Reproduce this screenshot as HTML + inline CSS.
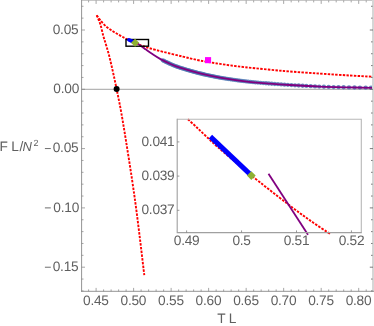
<!DOCTYPE html><html><head><meta charset="utf-8"><style>html,body{margin:0;padding:0;background:#fff}svg{display:block;will-change:transform}</style></head><body><svg width="374" height="326" viewBox="0 0 374 326">
<rect width="374" height="326" fill="#fff"/>
<line x1="81.60" y1="89.30" x2="372.50" y2="89.30" stroke="#8a8a8a" stroke-width="0.8"/>
<path d="M96.70 15.30 C97.35 16.18 98.98 18.70 100.60 20.60 C102.22 22.50 104.42 24.97 106.40 26.70 C108.38 28.43 110.45 29.67 112.50 31.00 C114.55 32.33 116.65 33.52 118.70 34.70 C120.75 35.88 122.92 37.10 124.80 38.10 C126.68 39.10 128.27 39.88 130.00 40.70 C131.73 41.52 133.97 42.45 135.20 43.00 C136.43 43.55 136.67 43.67 137.40 44.00 C138.13 44.33 138.73 44.62 139.60 44.95 C140.47 45.28 141.60 45.66 142.60 46.00 C143.60 46.34 144.28 46.58 145.60 47.00 C146.92 47.42 147.53 47.68 150.50 48.50 C153.47 49.32 158.02 50.55 163.40 51.90 C168.78 53.25 177.22 55.27 182.80 56.60 C188.38 57.93 192.73 59.02 196.90 59.90 C201.07 60.78 203.95 61.23 207.80 61.90 C211.65 62.57 213.80 63.02 220.00 63.90 C226.20 64.78 234.33 66.02 245.00 67.20 C255.67 68.38 271.50 69.93 284.00 71.00 C296.50 72.07 309.00 72.85 320.00 73.60 C331.00 74.35 341.33 74.98 350.00 75.50 C358.67 76.02 368.33 76.50 372.00 76.70" fill="none" stroke="#ff0000" stroke-width="1.9" stroke-dasharray="2.45 1.3"/>
<path d="M96.70 15.30 C97.30 16.78 99.18 20.72 100.30 24.20 C101.42 27.68 102.38 32.57 103.40 36.20 C104.42 39.83 105.27 42.03 106.40 46.00 C107.53 49.97 108.50 52.83 110.20 60.00 C111.90 67.17 114.40 78.17 116.60 89.00 C118.80 99.83 120.33 106.50 123.40 125.00 C126.47 143.50 131.52 174.97 135.00 200.00 C138.48 225.03 142.75 262.67 144.30 275.20" fill="none" stroke="#ff0000" stroke-width="1.9" stroke-dasharray="2.45 1.3"/>
<circle cx="162.80" cy="60.35" r="2.15" fill="#4f78b3" fill-opacity="0.85"/>
<circle cx="164.00" cy="60.96" r="2.15" fill="#4f78b3" fill-opacity="0.85"/>
<circle cx="165.20" cy="61.56" r="2.15" fill="#4f78b3" fill-opacity="0.85"/>
<circle cx="166.40" cy="62.14" r="2.15" fill="#4f78b3" fill-opacity="0.85"/>
<circle cx="167.60" cy="62.71" r="2.15" fill="#4f78b3" fill-opacity="0.85"/>
<circle cx="168.80" cy="63.26" r="2.15" fill="#4f78b3" fill-opacity="0.85"/>
<circle cx="170.00" cy="63.80" r="2.15" fill="#4f78b3" fill-opacity="0.85"/>
<circle cx="171.20" cy="64.34" r="2.15" fill="#4f78b3" fill-opacity="0.85"/>
<circle cx="172.40" cy="64.87" r="2.15" fill="#4f78b3" fill-opacity="0.85"/>
<circle cx="173.60" cy="65.38" r="2.15" fill="#4f78b3" fill-opacity="0.85"/>
<circle cx="174.80" cy="65.87" r="2.15" fill="#4f78b3" fill-opacity="0.85"/>
<circle cx="176.00" cy="66.33" r="2.15" fill="#4f78b3" fill-opacity="0.85"/>
<circle cx="177.20" cy="66.77" r="2.15" fill="#4f78b3" fill-opacity="0.85"/>
<circle cx="178.40" cy="67.18" r="2.15" fill="#4f78b3" fill-opacity="0.85"/>
<circle cx="179.60" cy="67.57" r="2.15" fill="#4f78b3" fill-opacity="0.85"/>
<circle cx="180.80" cy="67.96" r="2.15" fill="#4f78b3" fill-opacity="0.85"/>
<circle cx="182.00" cy="68.33" r="2.15" fill="#4f78b3" fill-opacity="0.85"/>
<circle cx="183.20" cy="68.70" r="2.15" fill="#4f78b3" fill-opacity="0.85"/>
<circle cx="184.40" cy="69.07" r="2.15" fill="#4f78b3" fill-opacity="0.85"/>
<circle cx="185.60" cy="69.43" r="2.15" fill="#4f78b3" fill-opacity="0.85"/>
<circle cx="186.80" cy="69.78" r="2.15" fill="#4f78b3" fill-opacity="0.85"/>
<circle cx="188.00" cy="70.13" r="2.15" fill="#4f78b3" fill-opacity="0.85"/>
<circle cx="189.20" cy="70.48" r="2.15" fill="#4f78b3" fill-opacity="0.85"/>
<circle cx="190.40" cy="70.83" r="2.15" fill="#4f78b3" fill-opacity="0.85"/>
<circle cx="191.60" cy="71.17" r="2.15" fill="#4f78b3" fill-opacity="0.85"/>
<circle cx="192.80" cy="71.50" r="2.15" fill="#4f78b3" fill-opacity="0.85"/>
<circle cx="194.00" cy="71.83" r="2.15" fill="#4f78b3" fill-opacity="0.85"/>
<circle cx="195.20" cy="72.16" r="2.15" fill="#4f78b3" fill-opacity="0.85"/>
<circle cx="196.40" cy="72.48" r="2.15" fill="#4f78b3" fill-opacity="0.85"/>
<circle cx="197.60" cy="72.79" r="2.15" fill="#4f78b3" fill-opacity="0.85"/>
<circle cx="198.80" cy="73.10" r="2.15" fill="#4f78b3" fill-opacity="0.85"/>
<circle cx="200.00" cy="73.40" r="2.15" fill="#4f78b3" fill-opacity="0.85"/>
<circle cx="201.20" cy="73.70" r="2.15" fill="#4f78b3" fill-opacity="0.85"/>
<circle cx="202.40" cy="73.99" r="2.15" fill="#4f78b3" fill-opacity="0.85"/>
<circle cx="203.60" cy="74.27" r="2.15" fill="#4f78b3" fill-opacity="0.85"/>
<circle cx="204.80" cy="74.55" r="2.15" fill="#4f78b3" fill-opacity="0.85"/>
<circle cx="206.00" cy="74.82" r="2.15" fill="#4f78b3" fill-opacity="0.85"/>
<circle cx="207.20" cy="75.09" r="2.15" fill="#4f78b3" fill-opacity="0.85"/>
<circle cx="208.40" cy="75.35" r="2.15" fill="#4f78b3" fill-opacity="0.85"/>
<circle cx="209.60" cy="75.61" r="2.15" fill="#4f78b3" fill-opacity="0.85"/>
<circle cx="210.80" cy="75.86" r="2.15" fill="#4f78b3" fill-opacity="0.85"/>
<circle cx="212.00" cy="76.10" r="2.15" fill="#4f78b3" fill-opacity="0.85"/>
<circle cx="213.20" cy="76.34" r="2.15" fill="#4f78b3" fill-opacity="0.85"/>
<circle cx="214.42" cy="76.58" r="2.15" fill="#4f78b3" fill-opacity="0.85"/>
<circle cx="215.67" cy="76.81" r="2.15" fill="#4f78b3" fill-opacity="0.85"/>
<circle cx="216.96" cy="77.05" r="2.15" fill="#4f78b3" fill-opacity="0.85"/>
<circle cx="218.28" cy="77.30" r="2.15" fill="#4f78b3" fill-opacity="0.85"/>
<circle cx="219.65" cy="77.54" r="2.15" fill="#4f78b3" fill-opacity="0.85"/>
<circle cx="221.07" cy="77.79" r="2.15" fill="#4f78b3" fill-opacity="0.85"/>
<circle cx="222.52" cy="78.03" r="2.15" fill="#4f78b3" fill-opacity="0.85"/>
<circle cx="224.02" cy="78.29" r="2.15" fill="#4f78b3" fill-opacity="0.85"/>
<circle cx="225.57" cy="78.54" r="2.15" fill="#4f78b3" fill-opacity="0.85"/>
<circle cx="227.16" cy="78.80" r="2.15" fill="#4f78b3" fill-opacity="0.85"/>
<circle cx="228.81" cy="79.05" r="2.15" fill="#4f78b3" fill-opacity="0.85"/>
<circle cx="230.50" cy="79.32" r="2.15" fill="#4f78b3" fill-opacity="0.85"/>
<circle cx="232.25" cy="79.58" r="2.15" fill="#4f78b3" fill-opacity="0.85"/>
<circle cx="234.05" cy="79.84" r="2.15" fill="#4f78b3" fill-opacity="0.85"/>
<circle cx="235.91" cy="80.11" r="2.15" fill="#4f78b3" fill-opacity="0.85"/>
<circle cx="237.83" cy="80.38" r="2.15" fill="#4f78b3" fill-opacity="0.85"/>
<circle cx="239.80" cy="80.64" r="2.15" fill="#4f78b3" fill-opacity="0.85"/>
<circle cx="241.83" cy="80.91" r="2.15" fill="#4f78b3" fill-opacity="0.85"/>
<circle cx="243.93" cy="81.17" r="2.15" fill="#4f78b3" fill-opacity="0.85"/>
<circle cx="246.09" cy="81.43" r="2.15" fill="#4f78b3" fill-opacity="0.85"/>
<circle cx="248.32" cy="81.68" r="2.15" fill="#4f78b3" fill-opacity="0.85"/>
<circle cx="250.62" cy="81.92" r="2.15" fill="#4f78b3" fill-opacity="0.85"/>
<circle cx="252.99" cy="82.15" r="2.15" fill="#4f78b3" fill-opacity="0.85"/>
<circle cx="255.44" cy="82.38" r="2.15" fill="#4f78b3" fill-opacity="0.85"/>
<circle cx="257.95" cy="82.61" r="2.15" fill="#4f78b3" fill-opacity="0.85"/>
<circle cx="260.55" cy="82.83" r="2.15" fill="#4f78b3" fill-opacity="0.85"/>
<circle cx="263.23" cy="83.05" r="2.15" fill="#4f78b3" fill-opacity="0.85"/>
<circle cx="265.99" cy="83.27" r="2.15" fill="#4f78b3" fill-opacity="0.85"/>
<circle cx="268.83" cy="83.50" r="2.15" fill="#4f78b3" fill-opacity="0.85"/>
<circle cx="271.77" cy="83.74" r="2.15" fill="#4f78b3" fill-opacity="0.85"/>
<circle cx="274.79" cy="83.98" r="2.15" fill="#4f78b3" fill-opacity="0.85"/>
<circle cx="277.91" cy="84.22" r="2.15" fill="#4f78b3" fill-opacity="0.85"/>
<circle cx="281.12" cy="84.44" r="2.15" fill="#4f78b3" fill-opacity="0.85"/>
<circle cx="284.43" cy="84.66" r="2.15" fill="#4f78b3" fill-opacity="0.85"/>
<circle cx="287.85" cy="84.87" r="2.15" fill="#4f78b3" fill-opacity="0.85"/>
<circle cx="291.37" cy="85.08" r="2.15" fill="#4f78b3" fill-opacity="0.85"/>
<circle cx="295.00" cy="85.30" r="2.15" fill="#4f78b3" fill-opacity="0.85"/>
<circle cx="298.70" cy="85.52" r="2.15" fill="#4f78b3" fill-opacity="0.85"/>
<circle cx="302.60" cy="85.74" r="2.15" fill="#4f78b3" fill-opacity="0.85"/>
<circle cx="306.40" cy="85.95" r="2.15" fill="#4f78b3" fill-opacity="0.85"/>
<circle cx="310.70" cy="86.17" r="2.15" fill="#4f78b3" fill-opacity="0.85"/>
<circle cx="315.00" cy="86.38" r="2.15" fill="#4f78b3" fill-opacity="0.85"/>
<circle cx="319.20" cy="86.57" r="2.15" fill="#4f78b3" fill-opacity="0.85"/>
<circle cx="323.90" cy="86.74" r="2.15" fill="#4f78b3" fill-opacity="0.85"/>
<circle cx="328.70" cy="86.90" r="2.15" fill="#4f78b3" fill-opacity="0.85"/>
<circle cx="333.60" cy="87.03" r="2.15" fill="#4f78b3" fill-opacity="0.85"/>
<circle cx="338.50" cy="87.15" r="2.15" fill="#4f78b3" fill-opacity="0.85"/>
<circle cx="343.60" cy="87.26" r="2.15" fill="#4f78b3" fill-opacity="0.85"/>
<circle cx="349.00" cy="87.38" r="2.15" fill="#4f78b3" fill-opacity="0.85"/>
<circle cx="354.50" cy="87.50" r="2.15" fill="#4f78b3" fill-opacity="0.85"/>
<circle cx="359.90" cy="87.60" r="2.15" fill="#4f78b3" fill-opacity="0.85"/>
<circle cx="365.70" cy="87.69" r="2.15" fill="#4f78b3" fill-opacity="0.85"/>
<circle cx="371.00" cy="87.77" r="2.15" fill="#4f78b3" fill-opacity="0.85"/>
<path d="M137.40 42.90 C137.77 43.23 138.75 44.22 139.60 44.90 C140.45 45.58 141.43 46.22 142.50 47.00 C143.57 47.78 144.42 48.47 146.00 49.60 C147.58 50.73 149.65 52.25 152.00 53.80 C154.35 55.35 157.10 57.23 160.10 58.90 C163.10 60.57 166.68 62.33 170.00 63.80 C173.32 65.27 175.00 66.10 180.00 67.70 C185.00 69.30 193.33 71.75 200.00 73.40 C206.67 75.05 212.50 76.28 220.00 77.60 C227.50 78.92 236.67 80.30 245.00 81.30 C253.33 82.30 262.50 82.98 270.00 83.60 C277.50 84.22 281.67 84.50 290.00 85.00 C298.33 85.50 310.00 86.20 320.00 86.60 C330.00 87.00 341.25 87.20 350.00 87.40 C358.75 87.60 368.75 87.73 372.50 87.80" fill="none" stroke="#800080" stroke-width="1.8"/>
<rect x="126.0" y="39.5" width="22.5" height="6.7" fill="none" stroke="#000" stroke-width="1.4"/>
<line x1="129.0" y1="39.9" x2="135.2" y2="42.8" stroke="#0000ff" stroke-width="3.8" stroke-linecap="round"/>
<path d="M131.00 42.75 L135.10 38.65 L139.20 42.75 L135.10 46.85Z" fill="#8fb032"/>
<rect x="205.0" y="57.1" width="6.1" height="6.1" fill="#ff00ff"/>
<circle cx="116.6" cy="89.1" r="3" fill="#000"/>
<rect x="177.20" y="119.30" width="184.30" height="113.30" fill="#fff" stroke="none"/>
<path d="M187.90 119.30 C189.35 120.62 193.50 124.30 196.60 127.20 C199.70 130.10 203.00 133.40 206.50 136.70 C210.00 140.00 213.02 142.98 217.60 147.00 C222.18 151.02 228.42 156.08 234.00 160.80 C239.58 165.52 242.28 168.22 251.10 175.30 C259.92 182.38 277.08 195.78 286.90 203.30 C296.72 210.82 302.68 215.22 310.00 220.40 C317.32 225.58 327.33 232.07 330.80 234.40" fill="none" stroke="#ff0000" stroke-width="1.9" stroke-dasharray="2.45 1.3"/>
<line x1="210.4" y1="136.6" x2="250.5" y2="174.6" stroke="#0000ff" stroke-width="4.9" stroke-linecap="butt"/>
<line x1="268.5" y1="173.8" x2="308.0" y2="234.8" stroke="#800080" stroke-width="1.8"/>
<path d="M246.90 175.60 L251.30 171.20 L255.70 175.60 L251.30 180.00Z" fill="#8fb032"/>
<path d="M177.20 119.30 H361.30 V232.60" fill="none" stroke="#b8b8b8" stroke-width="1.1"/>
<path d="M177.20 118.80 V232.60 H361.80" fill="none" stroke="#a0a0a0" stroke-width="1.1"/>
<line x1="186.60" y1="232.60" x2="186.60" y2="230.40" stroke="#808080" stroke-width="0.8"/>
<line x1="241.55" y1="232.60" x2="241.55" y2="230.40" stroke="#808080" stroke-width="0.8"/>
<line x1="296.50" y1="232.60" x2="296.50" y2="230.40" stroke="#808080" stroke-width="0.8"/>
<line x1="351.45" y1="232.60" x2="351.45" y2="230.40" stroke="#808080" stroke-width="0.8"/>
<line x1="177.20" y1="210.30" x2="179.40" y2="210.30" stroke="#808080" stroke-width="0.8"/>
<line x1="177.20" y1="176.10" x2="179.40" y2="176.10" stroke="#808080" stroke-width="0.8"/>
<line x1="177.20" y1="141.90" x2="179.40" y2="141.90" stroke="#808080" stroke-width="0.8"/>
<rect x="81.10" y="0" width="292.90" height="0.95" fill="#c6c6c6"/>
<rect x="372.0" y="0" width="2.0" height="291.80" fill="#d6d6d6"/>
<line x1="81.60" y1="0" x2="81.60" y2="291.80" stroke="#949494" stroke-width="1"/>
<line x1="81.10" y1="291.30" x2="374" y2="291.30" stroke="#949494" stroke-width="1"/>
<line x1="88.60" y1="291.30" x2="88.60" y2="289.40" stroke="#808080" stroke-width="0.7"/>
<line x1="88.60" y1="0.50" x2="88.60" y2="2.40" stroke="#808080" stroke-width="0.7"/>
<line x1="96.10" y1="291.30" x2="96.10" y2="287.90" stroke="#808080" stroke-width="0.7"/>
<line x1="96.10" y1="0.50" x2="96.10" y2="3.90" stroke="#808080" stroke-width="0.7"/>
<line x1="103.60" y1="291.30" x2="103.60" y2="289.40" stroke="#808080" stroke-width="0.7"/>
<line x1="103.60" y1="0.50" x2="103.60" y2="2.40" stroke="#808080" stroke-width="0.7"/>
<line x1="111.11" y1="291.30" x2="111.11" y2="289.40" stroke="#808080" stroke-width="0.7"/>
<line x1="111.11" y1="0.50" x2="111.11" y2="2.40" stroke="#808080" stroke-width="0.7"/>
<line x1="118.61" y1="291.30" x2="118.61" y2="289.40" stroke="#808080" stroke-width="0.7"/>
<line x1="118.61" y1="0.50" x2="118.61" y2="2.40" stroke="#808080" stroke-width="0.7"/>
<line x1="126.11" y1="291.30" x2="126.11" y2="289.40" stroke="#808080" stroke-width="0.7"/>
<line x1="126.11" y1="0.50" x2="126.11" y2="2.40" stroke="#808080" stroke-width="0.7"/>
<line x1="133.61" y1="291.30" x2="133.61" y2="287.90" stroke="#808080" stroke-width="0.7"/>
<line x1="133.61" y1="0.50" x2="133.61" y2="3.90" stroke="#808080" stroke-width="0.7"/>
<line x1="141.12" y1="291.30" x2="141.12" y2="289.40" stroke="#808080" stroke-width="0.7"/>
<line x1="141.12" y1="0.50" x2="141.12" y2="2.40" stroke="#808080" stroke-width="0.7"/>
<line x1="148.62" y1="291.30" x2="148.62" y2="289.40" stroke="#808080" stroke-width="0.7"/>
<line x1="148.62" y1="0.50" x2="148.62" y2="2.40" stroke="#808080" stroke-width="0.7"/>
<line x1="156.12" y1="291.30" x2="156.12" y2="289.40" stroke="#808080" stroke-width="0.7"/>
<line x1="156.12" y1="0.50" x2="156.12" y2="2.40" stroke="#808080" stroke-width="0.7"/>
<line x1="163.63" y1="291.30" x2="163.63" y2="289.40" stroke="#808080" stroke-width="0.7"/>
<line x1="163.63" y1="0.50" x2="163.63" y2="2.40" stroke="#808080" stroke-width="0.7"/>
<line x1="171.13" y1="291.30" x2="171.13" y2="287.90" stroke="#808080" stroke-width="0.7"/>
<line x1="171.13" y1="0.50" x2="171.13" y2="3.90" stroke="#808080" stroke-width="0.7"/>
<line x1="178.63" y1="291.30" x2="178.63" y2="289.40" stroke="#808080" stroke-width="0.7"/>
<line x1="178.63" y1="0.50" x2="178.63" y2="2.40" stroke="#808080" stroke-width="0.7"/>
<line x1="186.14" y1="291.30" x2="186.14" y2="289.40" stroke="#808080" stroke-width="0.7"/>
<line x1="186.14" y1="0.50" x2="186.14" y2="2.40" stroke="#808080" stroke-width="0.7"/>
<line x1="193.64" y1="291.30" x2="193.64" y2="289.40" stroke="#808080" stroke-width="0.7"/>
<line x1="193.64" y1="0.50" x2="193.64" y2="2.40" stroke="#808080" stroke-width="0.7"/>
<line x1="201.14" y1="291.30" x2="201.14" y2="289.40" stroke="#808080" stroke-width="0.7"/>
<line x1="201.14" y1="0.50" x2="201.14" y2="2.40" stroke="#808080" stroke-width="0.7"/>
<line x1="208.64" y1="291.30" x2="208.64" y2="287.90" stroke="#808080" stroke-width="0.7"/>
<line x1="208.64" y1="0.50" x2="208.64" y2="3.90" stroke="#808080" stroke-width="0.7"/>
<line x1="216.15" y1="291.30" x2="216.15" y2="289.40" stroke="#808080" stroke-width="0.7"/>
<line x1="216.15" y1="0.50" x2="216.15" y2="2.40" stroke="#808080" stroke-width="0.7"/>
<line x1="223.65" y1="291.30" x2="223.65" y2="289.40" stroke="#808080" stroke-width="0.7"/>
<line x1="223.65" y1="0.50" x2="223.65" y2="2.40" stroke="#808080" stroke-width="0.7"/>
<line x1="231.15" y1="291.30" x2="231.15" y2="289.40" stroke="#808080" stroke-width="0.7"/>
<line x1="231.15" y1="0.50" x2="231.15" y2="2.40" stroke="#808080" stroke-width="0.7"/>
<line x1="238.66" y1="291.30" x2="238.66" y2="289.40" stroke="#808080" stroke-width="0.7"/>
<line x1="238.66" y1="0.50" x2="238.66" y2="2.40" stroke="#808080" stroke-width="0.7"/>
<line x1="246.16" y1="291.30" x2="246.16" y2="287.90" stroke="#808080" stroke-width="0.7"/>
<line x1="246.16" y1="0.50" x2="246.16" y2="3.90" stroke="#808080" stroke-width="0.7"/>
<line x1="253.66" y1="291.30" x2="253.66" y2="289.40" stroke="#808080" stroke-width="0.7"/>
<line x1="253.66" y1="0.50" x2="253.66" y2="2.40" stroke="#808080" stroke-width="0.7"/>
<line x1="261.17" y1="291.30" x2="261.17" y2="289.40" stroke="#808080" stroke-width="0.7"/>
<line x1="261.17" y1="0.50" x2="261.17" y2="2.40" stroke="#808080" stroke-width="0.7"/>
<line x1="268.67" y1="291.30" x2="268.67" y2="289.40" stroke="#808080" stroke-width="0.7"/>
<line x1="268.67" y1="0.50" x2="268.67" y2="2.40" stroke="#808080" stroke-width="0.7"/>
<line x1="276.17" y1="291.30" x2="276.17" y2="289.40" stroke="#808080" stroke-width="0.7"/>
<line x1="276.17" y1="0.50" x2="276.17" y2="2.40" stroke="#808080" stroke-width="0.7"/>
<line x1="283.67" y1="291.30" x2="283.67" y2="287.90" stroke="#808080" stroke-width="0.7"/>
<line x1="283.67" y1="0.50" x2="283.67" y2="3.90" stroke="#808080" stroke-width="0.7"/>
<line x1="291.18" y1="291.30" x2="291.18" y2="289.40" stroke="#808080" stroke-width="0.7"/>
<line x1="291.18" y1="0.50" x2="291.18" y2="2.40" stroke="#808080" stroke-width="0.7"/>
<line x1="298.68" y1="291.30" x2="298.68" y2="289.40" stroke="#808080" stroke-width="0.7"/>
<line x1="298.68" y1="0.50" x2="298.68" y2="2.40" stroke="#808080" stroke-width="0.7"/>
<line x1="306.18" y1="291.30" x2="306.18" y2="289.40" stroke="#808080" stroke-width="0.7"/>
<line x1="306.18" y1="0.50" x2="306.18" y2="2.40" stroke="#808080" stroke-width="0.7"/>
<line x1="313.69" y1="291.30" x2="313.69" y2="289.40" stroke="#808080" stroke-width="0.7"/>
<line x1="313.69" y1="0.50" x2="313.69" y2="2.40" stroke="#808080" stroke-width="0.7"/>
<line x1="321.19" y1="291.30" x2="321.19" y2="287.90" stroke="#808080" stroke-width="0.7"/>
<line x1="321.19" y1="0.50" x2="321.19" y2="3.90" stroke="#808080" stroke-width="0.7"/>
<line x1="328.69" y1="291.30" x2="328.69" y2="289.40" stroke="#808080" stroke-width="0.7"/>
<line x1="328.69" y1="0.50" x2="328.69" y2="2.40" stroke="#808080" stroke-width="0.7"/>
<line x1="336.20" y1="291.30" x2="336.20" y2="289.40" stroke="#808080" stroke-width="0.7"/>
<line x1="336.20" y1="0.50" x2="336.20" y2="2.40" stroke="#808080" stroke-width="0.7"/>
<line x1="343.70" y1="291.30" x2="343.70" y2="289.40" stroke="#808080" stroke-width="0.7"/>
<line x1="343.70" y1="0.50" x2="343.70" y2="2.40" stroke="#808080" stroke-width="0.7"/>
<line x1="351.20" y1="291.30" x2="351.20" y2="289.40" stroke="#808080" stroke-width="0.7"/>
<line x1="351.20" y1="0.50" x2="351.20" y2="2.40" stroke="#808080" stroke-width="0.7"/>
<line x1="358.71" y1="291.30" x2="358.71" y2="287.90" stroke="#808080" stroke-width="0.7"/>
<line x1="358.71" y1="0.50" x2="358.71" y2="3.90" stroke="#808080" stroke-width="0.7"/>
<line x1="366.21" y1="291.30" x2="366.21" y2="289.40" stroke="#808080" stroke-width="0.7"/>
<line x1="366.21" y1="0.50" x2="366.21" y2="2.40" stroke="#808080" stroke-width="0.7"/>
<line x1="81.60" y1="290.92" x2="83.50" y2="290.92" stroke="#808080" stroke-width="0.7"/>
<line x1="371.0" y1="290.92" x2="372.6" y2="290.92" stroke="#6e6e6e" stroke-width="0.9"/>
<line x1="81.60" y1="279.06" x2="83.50" y2="279.06" stroke="#808080" stroke-width="0.7"/>
<line x1="371.0" y1="279.06" x2="372.6" y2="279.06" stroke="#6e6e6e" stroke-width="0.9"/>
<line x1="81.60" y1="267.20" x2="85.00" y2="267.20" stroke="#808080" stroke-width="0.7"/>
<line x1="369.8" y1="267.20" x2="373.0" y2="267.20" stroke="#6e6e6e" stroke-width="0.9"/>
<line x1="81.60" y1="255.34" x2="83.50" y2="255.34" stroke="#808080" stroke-width="0.7"/>
<line x1="371.0" y1="255.34" x2="372.6" y2="255.34" stroke="#6e6e6e" stroke-width="0.9"/>
<line x1="81.60" y1="243.48" x2="83.50" y2="243.48" stroke="#808080" stroke-width="0.7"/>
<line x1="371.0" y1="243.48" x2="372.6" y2="243.48" stroke="#6e6e6e" stroke-width="0.9"/>
<line x1="81.60" y1="231.62" x2="83.50" y2="231.62" stroke="#808080" stroke-width="0.7"/>
<line x1="371.0" y1="231.62" x2="372.6" y2="231.62" stroke="#6e6e6e" stroke-width="0.9"/>
<line x1="81.60" y1="219.76" x2="83.50" y2="219.76" stroke="#808080" stroke-width="0.7"/>
<line x1="371.0" y1="219.76" x2="372.6" y2="219.76" stroke="#6e6e6e" stroke-width="0.9"/>
<line x1="81.60" y1="207.90" x2="85.00" y2="207.90" stroke="#808080" stroke-width="0.7"/>
<line x1="369.8" y1="207.90" x2="373.0" y2="207.90" stroke="#6e6e6e" stroke-width="0.9"/>
<line x1="81.60" y1="196.04" x2="83.50" y2="196.04" stroke="#808080" stroke-width="0.7"/>
<line x1="371.0" y1="196.04" x2="372.6" y2="196.04" stroke="#6e6e6e" stroke-width="0.9"/>
<line x1="81.60" y1="184.18" x2="83.50" y2="184.18" stroke="#808080" stroke-width="0.7"/>
<line x1="371.0" y1="184.18" x2="372.6" y2="184.18" stroke="#6e6e6e" stroke-width="0.9"/>
<line x1="81.60" y1="172.32" x2="83.50" y2="172.32" stroke="#808080" stroke-width="0.7"/>
<line x1="371.0" y1="172.32" x2="372.6" y2="172.32" stroke="#6e6e6e" stroke-width="0.9"/>
<line x1="81.60" y1="160.46" x2="83.50" y2="160.46" stroke="#808080" stroke-width="0.7"/>
<line x1="371.0" y1="160.46" x2="372.6" y2="160.46" stroke="#6e6e6e" stroke-width="0.9"/>
<line x1="81.60" y1="148.60" x2="85.00" y2="148.60" stroke="#808080" stroke-width="0.7"/>
<line x1="369.8" y1="148.60" x2="373.0" y2="148.60" stroke="#6e6e6e" stroke-width="0.9"/>
<line x1="81.60" y1="136.74" x2="83.50" y2="136.74" stroke="#808080" stroke-width="0.7"/>
<line x1="371.0" y1="136.74" x2="372.6" y2="136.74" stroke="#6e6e6e" stroke-width="0.9"/>
<line x1="81.60" y1="124.88" x2="83.50" y2="124.88" stroke="#808080" stroke-width="0.7"/>
<line x1="371.0" y1="124.88" x2="372.6" y2="124.88" stroke="#6e6e6e" stroke-width="0.9"/>
<line x1="81.60" y1="113.02" x2="83.50" y2="113.02" stroke="#808080" stroke-width="0.7"/>
<line x1="371.0" y1="113.02" x2="372.6" y2="113.02" stroke="#6e6e6e" stroke-width="0.9"/>
<line x1="81.60" y1="101.16" x2="83.50" y2="101.16" stroke="#808080" stroke-width="0.7"/>
<line x1="371.0" y1="101.16" x2="372.6" y2="101.16" stroke="#6e6e6e" stroke-width="0.9"/>
<line x1="81.60" y1="89.30" x2="85.00" y2="89.30" stroke="#808080" stroke-width="0.7"/>
<line x1="369.8" y1="89.30" x2="373.0" y2="89.30" stroke="#6e6e6e" stroke-width="0.9"/>
<line x1="81.60" y1="77.44" x2="83.50" y2="77.44" stroke="#808080" stroke-width="0.7"/>
<line x1="371.0" y1="77.44" x2="372.6" y2="77.44" stroke="#6e6e6e" stroke-width="0.9"/>
<line x1="81.60" y1="65.58" x2="83.50" y2="65.58" stroke="#808080" stroke-width="0.7"/>
<line x1="371.0" y1="65.58" x2="372.6" y2="65.58" stroke="#6e6e6e" stroke-width="0.9"/>
<line x1="81.60" y1="53.72" x2="83.50" y2="53.72" stroke="#808080" stroke-width="0.7"/>
<line x1="371.0" y1="53.72" x2="372.6" y2="53.72" stroke="#6e6e6e" stroke-width="0.9"/>
<line x1="81.60" y1="41.86" x2="83.50" y2="41.86" stroke="#808080" stroke-width="0.7"/>
<line x1="371.0" y1="41.86" x2="372.6" y2="41.86" stroke="#6e6e6e" stroke-width="0.9"/>
<line x1="81.60" y1="30.00" x2="85.00" y2="30.00" stroke="#808080" stroke-width="0.7"/>
<line x1="369.8" y1="30.00" x2="373.0" y2="30.00" stroke="#6e6e6e" stroke-width="0.9"/>
<line x1="81.60" y1="18.14" x2="83.50" y2="18.14" stroke="#808080" stroke-width="0.7"/>
<line x1="371.0" y1="18.14" x2="372.6" y2="18.14" stroke="#6e6e6e" stroke-width="0.9"/>
<line x1="81.60" y1="6.28" x2="83.50" y2="6.28" stroke="#808080" stroke-width="0.7"/>
<line x1="371.0" y1="6.28" x2="372.6" y2="6.28" stroke="#6e6e6e" stroke-width="0.9"/>
<g font-family="Liberation Sans, sans-serif" font-size="13.7" fill="#5f5f5f" letter-spacing="-0.25" text-rendering="geometricPrecision">
<text x="95.90" y="304.7" text-anchor="middle">0.45</text>
<text x="133.41" y="304.7" text-anchor="middle">0.50</text>
<text x="170.93" y="304.7" text-anchor="middle">0.55</text>
<text x="208.44" y="304.7" text-anchor="middle">0.60</text>
<text x="245.96" y="304.7" text-anchor="middle">0.65</text>
<text x="283.47" y="304.7" text-anchor="middle">0.70</text>
<text x="320.99" y="304.7" text-anchor="middle">0.75</text>
<text x="358.51" y="304.7" text-anchor="middle">0.80</text>
<text x="78.40" y="33.75" text-anchor="end">0.05</text>
<text x="79.00" y="93.05" text-anchor="end">0.00</text>
<text x="78.40" y="152.35" text-anchor="end">0.05</text>
<rect x="44.9" y="148.15" width="5.9" height="0.9" fill="#5f5f5f"/>
<text x="79.00" y="211.65" text-anchor="end">0.10</text>
<rect x="44.9" y="207.45" width="5.9" height="0.9" fill="#5f5f5f"/>
<text x="78.40" y="270.95" text-anchor="end">0.15</text>
<rect x="44.9" y="266.75" width="5.9" height="0.9" fill="#5f5f5f"/>
<text x="186.60" y="245.45" text-anchor="middle">0.49</text>
<text x="241.55" y="245.45" text-anchor="middle">0.5</text>
<text x="296.50" y="245.45" text-anchor="middle">0.51</text>
<text x="351.45" y="245.45" text-anchor="middle">0.52</text>
<text x="174.5" y="214.40" text-anchor="end">0.037</text>
<text x="174.5" y="180.20" text-anchor="end">0.039</text>
<text x="174.5" y="146.00" text-anchor="end">0.041</text>
<text x="217.2" y="322.6">T</text><text x="228.8" y="322.6">L</text>
<text x="-0.5" y="150.7">F</text><text x="11.3" y="150.7">L</text><text x="19.4" y="150.7">/</text>
<text x="22.6" y="150.7" font-style="italic" font-size="13">N</text>
<text x="33.4" y="146.3" font-size="9">2</text>
</g>
</svg></body></html>
